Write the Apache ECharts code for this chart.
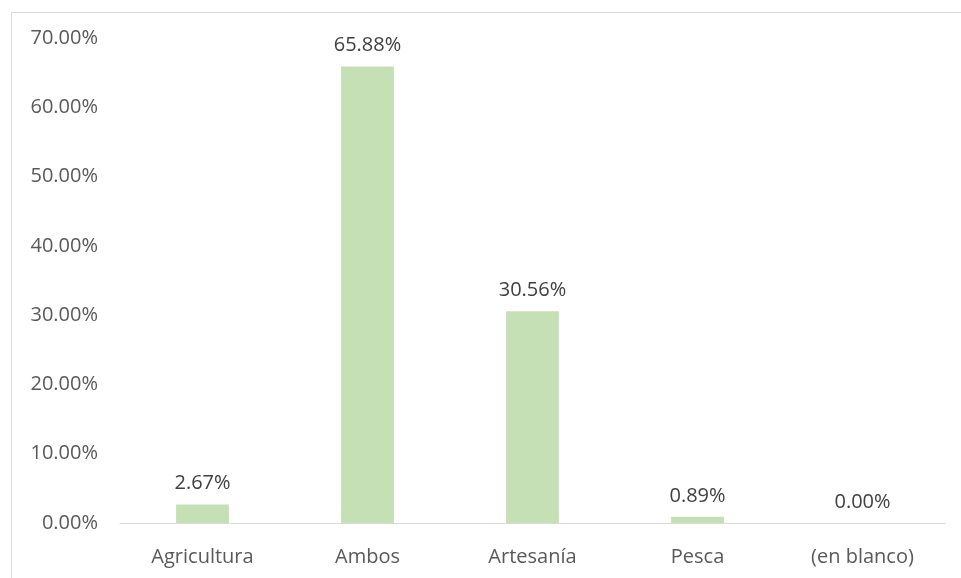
<!DOCTYPE html>
<html lang="es">
<head>
    <meta charset="UTF-8">
    <title>Actividad</title>
</head>
<body style="height: 100%; margin: 0; background: #fff">
<div id="container" style="width: 961px; height: 578px"></div>
<script src="https://cdn.jsdelivr.net/npm/echarts@6/dist/echarts.min.js"></script>
<script>
    var categories = ['Agricultura', 'Ambos', 'Artesanía', 'Pesca', '(en blanco)'];
    var values = [2.67, 65.88, 30.56, 0.89, 0.00];
    var yTicks = [0, 10, 20, 30, 40, 50, 60, 70];

    var chart = echarts.init(document.getElementById('container'));
    var font = '"Open Sans", sans-serif';

    var option = {
        animation: false,
        graphic: [{
            type: 'rect',
            left: 9, top: 10,
            shape: { width: 1000, height: 600 },
            style: { fill: 'none', stroke: '#d9d9d9', lineWidth: 1 },
            silent: true
        }],
        grid: { left: 120, right: 16, top: 38, bottom: 55 },
        xAxis: {
            type: 'category',
            data: categories,
            axisTick: { show: false },
            axisLine: { lineStyle: { color: '#d9d9d9' } },
            axisLabel: { color: '#595959', fontSize: 20, fontFamily: font, margin: 24 }
        },
        yAxis: {
            type: 'value',
            min: yTicks[0],
            max: yTicks[yTicks.length - 1],
            interval: 10,
            splitLine: { show: false },
            axisLine: { show: false },
            axisTick: { show: false },
            axisLabel: {
                color: '#595959', fontSize: 20, fontFamily: font, margin: 22,
                formatter: function (v) { return v.toFixed(2) + '%'; }
            }
        },
        series: [{
            type: 'bar',
            data: values,
            barWidth: '32%',
            itemStyle: { color: '#c5e0b4' },
            label: {
                show: true,
                position: 'top',
                distance: 11,
                color: '#404040',
                fontSize: 20,
                fontFamily: font,
                formatter: function (p) { return p.value.toFixed(2) + '%'; }
            }
        }]
    };

    chart.setOption(option);
</script>
</body>
</html>
